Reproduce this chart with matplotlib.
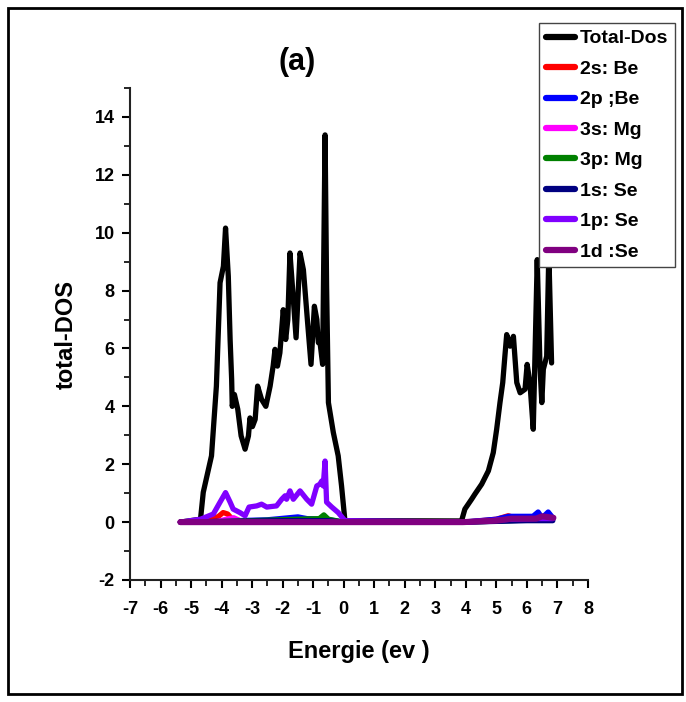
import matplotlib
matplotlib.use("Agg")
import matplotlib.pyplot as plt
from matplotlib.patches import Rectangle
from matplotlib.ticker import MultipleLocator

plt.rcParams['font.family'] = ['Liberation Sans Narrow', 'Liberation Sans', 'DejaVu Sans']
plt.rcParams['font.weight'] = 'bold'
plt.rcParams['axes.unicode_minus'] = False

# total DOS (two branches: valence and conduction)
total_x = [-5.35, -4.69, -4.6, -4.33, -4.17, -4.05, -3.94, -3.87, -3.78, -3.72, -3.67, -3.65,
           -3.58, -3.47, -3.36, -3.23, -3.12, -3.07, -2.99, -2.90, -2.82, -2.69, -2.55, -2.41,
           -2.31, -2.25, -2.17, -2.09, -1.98, -1.90, -1.83, -1.76, -1.68, -1.56, -1.43, -1.32,
           -1.19, -1.07, -0.96, -0.88, -0.83, -0.78, -0.69, -0.61, -0.56, -0.50, -0.34, -0.18,
           -0.07, 0.04, 3.86, 3.97, 4.19, 4.30, 4.52, 4.74, 4.90, 5.01, 5.12, 5.21, 5.28,
           5.34, 5.45, 5.56, 5.67, 5.78, 5.94, 6.01, 6.10, 6.21, 6.34, 6.43, 6.49, 6.54,
           6.65, 6.72, 6.81]
total_y = [0.0, 0.1, 1.03, 2.29, 4.7, 8.27, 8.84, 10.16, 8.5, 6.3, 4.93, 4.0,
           4.41, 3.9, 2.98, 2.52, 2.98, 3.6, 3.3, 3.55, 4.7, 4.24, 4.0, 4.7,
           5.4, 5.97, 5.39, 5.85, 7.34, 6.31, 7.0, 9.3, 8.15, 6.37, 9.3, 8.72,
           7.0, 5.45, 7.46, 7.0, 6.2, 6.25, 5.45, 13.38, 8.15, 4.13, 3.1, 2.29,
           1.25, 0.05, 0.04, 0.45, 0.79, 0.97, 1.31, 1.77, 2.4, 3.2, 4.13, 4.82, 5.73,
           6.48, 6.08, 6.42, 4.82, 4.47, 4.59, 5.45, 4.82, 3.21, 9.07, 5.39, 4.13, 5.28,
           5.73, 9.3, 5.5]

be2s_x = [-5.35, -4.4, -4.1, -3.95, -3.8, -3.65, -3.3, 0.0, 4.0, 5.0, 5.39, 5.6, 6.85]
be2s_y = [0.0, 0.05, 0.2, 0.33, 0.28, 0.1, 0.03, 0.0, 0.0, 0.1, 0.22, 0.15, 0.15]

be2p_x = [-5.35, -4.7, -3.5, -2.5, -1.8, -1.5, -1.2, -0.6, 0.0, 3.9, 5.0, 5.4, 6.2, 6.37,
          6.5, 6.7, 6.85]
be2p_y = [0.0, 0.0, 0.05, 0.08, 0.15, 0.18, 0.12, 0.1, 0.0, 0.0, 0.1, 0.2, 0.2, 0.35,
          0.15, 0.35, 0.15]

mg3s_x = [-5.35, -4.2, -3.85, -3.6, -3.4, -2.0, 0.0, 4.0, 5.5, 6.85]
mg3s_y = [0.0, 0.0, 0.1, 0.15, 0.05, 0.02, 0.0, 0.0, 0.08, 0.1]

mg3p_x = [-5.35, -4.5, -3.0, -1.5, -0.8, -0.65, -0.5, 0.0, 4.0, 6.85]
mg3p_y = [0.0, 0.0, 0.05, 0.1, 0.12, 0.25, 0.1, 0.0, 0.0, 0.1]

se1s_x = [-5.35, -4.5, -2.0, -0.5, 0.0, 4.0, 6.0, 6.85]
se1s_y = [0.0, 0.02, 0.05, 0.05, 0.0, 0.0, 0.05, 0.05]

se1p_x = [-5.35, -4.69, -4.27, -4.05, -3.87, -3.72, -3.62, -3.40, -3.23, -3.10, -2.85, -2.69,
          -2.52, -2.20, -2.03, -1.92, -1.87, -1.76, -1.65, -1.43, -1.21, -1.05, -0.88, -0.78,
          -0.72, -0.67, -0.61, -0.56, -0.39, -0.18, 0.04, 4.0, 5.5, 6.3, 6.85]
se1p_y = [0.0, 0.1, 0.28, 0.69, 1.02, 0.69, 0.45, 0.33, 0.22, 0.52, 0.56, 0.62,
          0.52, 0.56, 0.79, 0.91, 0.79, 1.08, 0.79, 1.08, 0.79, 0.62, 1.25, 1.31,
          1.42, 1.25, 2.11, 0.69, 0.52, 0.33, 0.05, 0.0, 0.1, 0.12, 0.12]

se1d_x = [-5.35, 3.9, 5.0, 5.5, 6.3, 6.5, 6.87]
se1d_y = [0.0, 0.0, 0.05, 0.12, 0.12, 0.2, 0.15]

series = [
    (total_x, total_y, 'Total-Dos', 'black'),
    (be2s_x, be2s_y, '2s: Be', '#ff0000'),
    (be2p_x, be2p_y, '2p ;Be', '#0000ff'),
    (mg3s_x, mg3s_y, '3s: Mg', '#ff00ff'),
    (mg3p_x, mg3p_y, '3p: Mg', '#008000'),
    (se1s_x, se1s_y, '1s: Se', '#000080'),
    (se1p_x, se1p_y, '1p: Se', '#8000ff'),
    (se1d_x, se1d_y, '1d :Se', '#800080'),
]

fig = plt.figure(figsize=(6.86, 7.02), dpi=100)
ax = fig.add_axes([0.1895, 0.1738, 0.6675, 0.7008])

for xs, ys, lab, col in series:
    lw = 4.4 if lab == '1d :Se' else 3.8
    ax.plot(xs, ys, color=col, lw=lw, label=lab, solid_joinstyle='round',
            solid_capstyle='round')

ax.set_xlim(-7, 8)
ax.set_ylim(-2, 15)
ax.xaxis.set_major_locator(MultipleLocator(1))
ax.xaxis.set_minor_locator(MultipleLocator(0.5))
ax.yaxis.set_major_locator(MultipleLocator(2))
ax.yaxis.set_minor_locator(MultipleLocator(1))
ax.spines['top'].set_visible(False)
ax.spines['right'].set_visible(False)
for s in ('left', 'bottom'):
    ax.spines[s].set_linewidth(1.5)
    ax.spines[s].set_color('#222222')
ax.tick_params(which='major', direction='out', length=6, width=1.5, labelsize=13)
ax.tick_params(axis='x', which='major', pad=9)
ax.tick_params(axis='y', which='major', pad=5)
ax.tick_params(which='minor', direction='out', length=4, width=1.2)

ax.set_xlabel('Energie (ev )', fontsize=17, fontweight='bold', labelpad=16)
ax.set_ylabel('total-DOS', fontsize=17, fontweight='bold', labelpad=12)
fig.text(0.433, 0.911, '(a)', fontsize=22, fontweight='bold', ha='center', va='center')

leg = fig.legend(loc='upper right', bbox_to_anchor=(675 / 686, 1 - 23 / 702),
                 fontsize=14, frameon=True, fancybox=False, labelspacing=0.66,
                 handlelength=1.5, handletextpad=0.25, borderpad=0.35, borderaxespad=0)
leg.get_frame().set_edgecolor('#444444')
leg.get_frame().set_linewidth(1.0)
leg.get_frame().set_alpha(1)
for line in leg.get_lines():
    line.set_linewidth(4.5)

fig.patches.append(Rectangle((8 / 686, 1 - 694 / 702), 674 / 686, 686 / 702,
                             transform=fig.transFigure, fill=False, edgecolor='black', lw=2))

fig.savefig('out.png', dpi=100)
